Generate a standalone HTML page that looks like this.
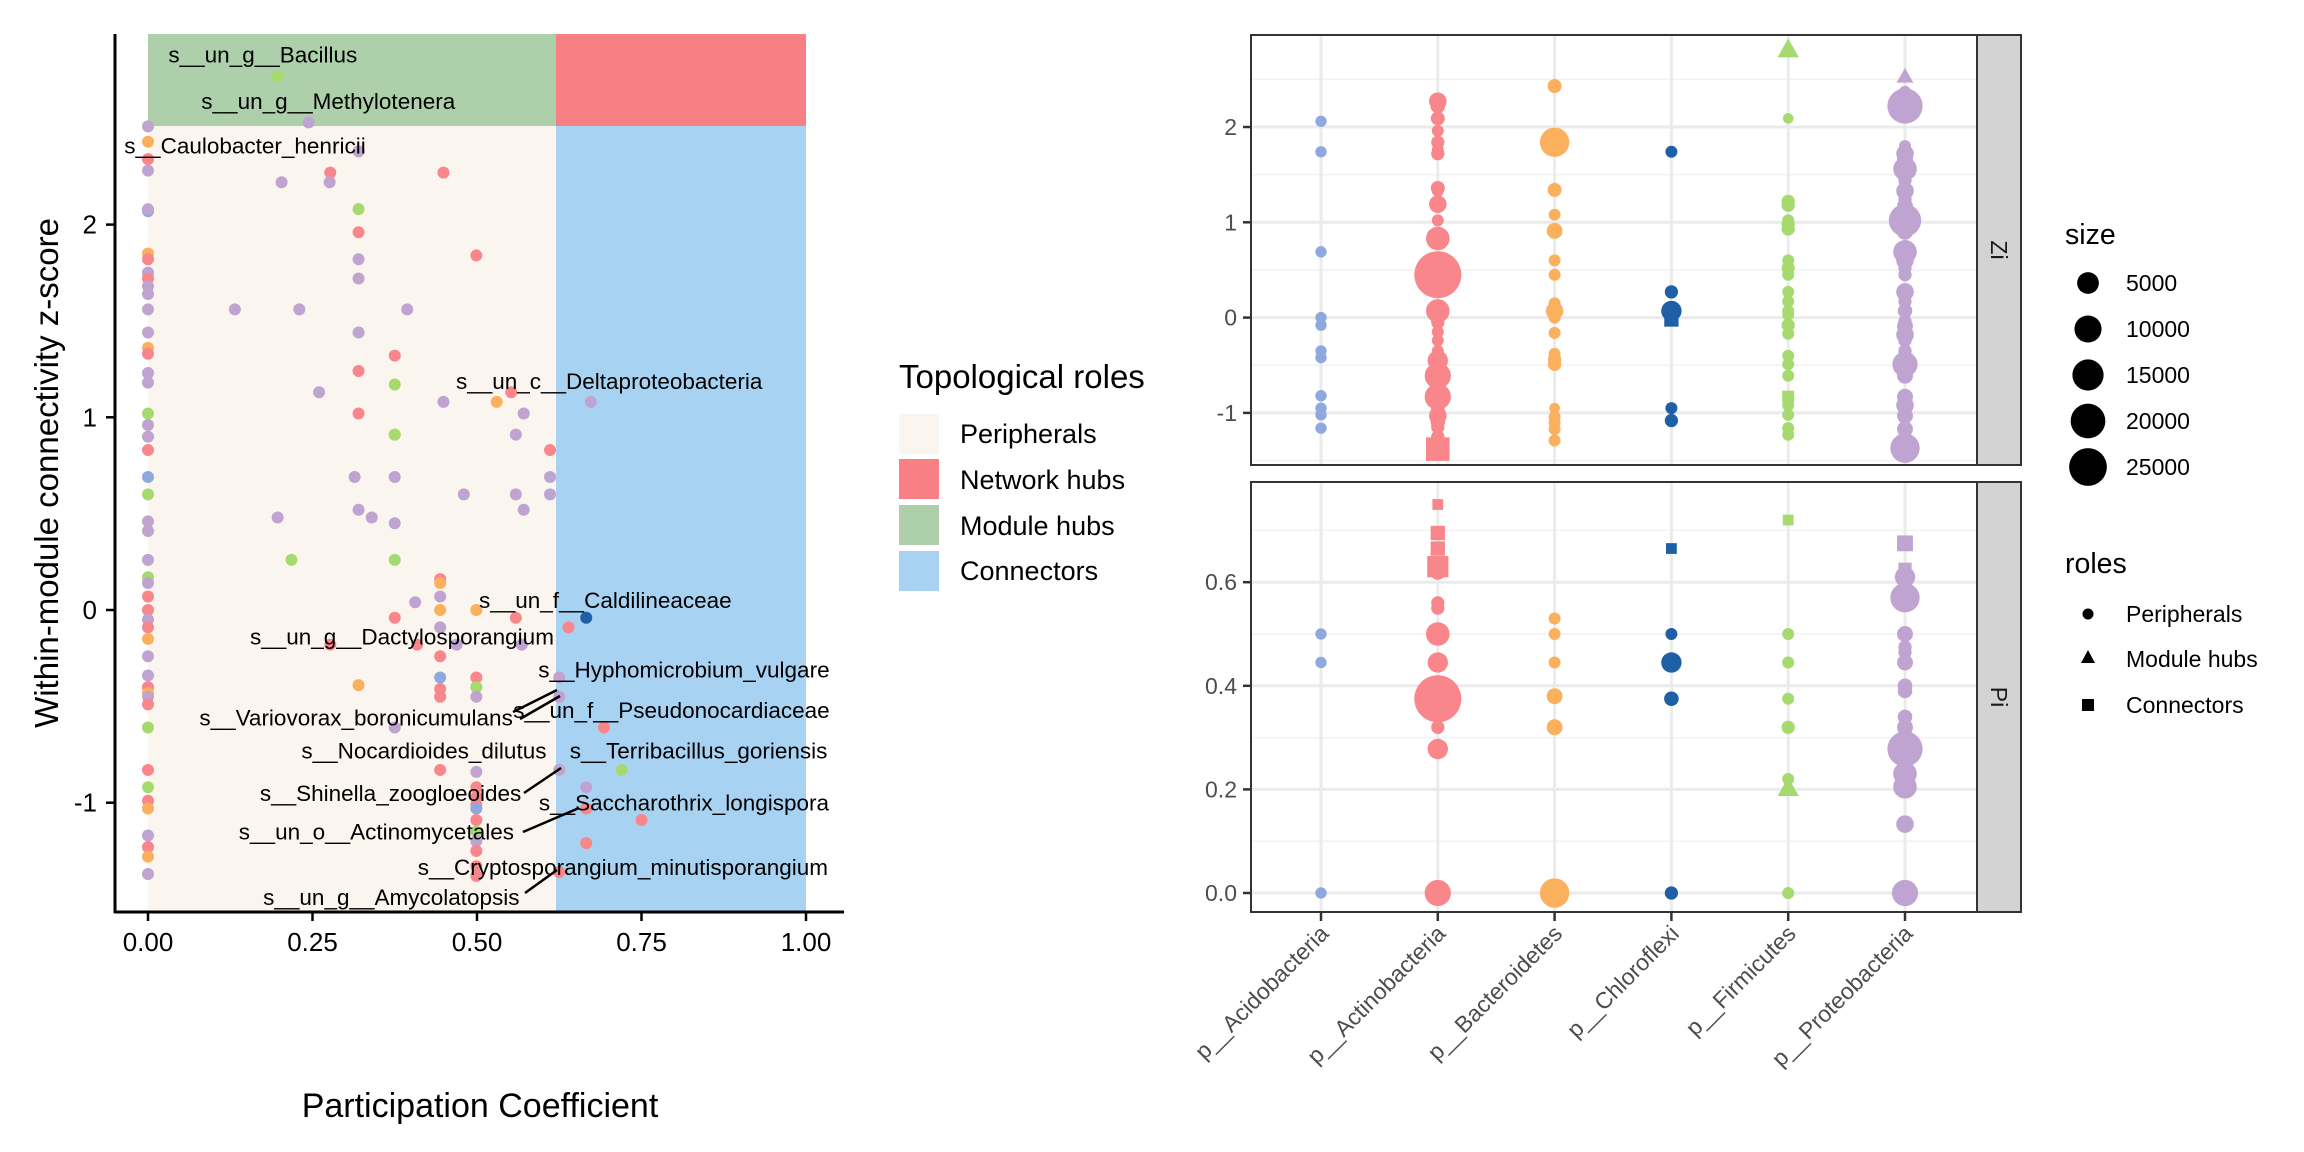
<!DOCTYPE html>
<html><head><meta charset="utf-8"><style>
html,body{margin:0;padding:0;background:#fff;}
svg{display:block;font-family:"Liberation Sans",Arial,sans-serif;}
</style></head><body>
<svg id="chart" width="2304" height="1152" viewBox="0 0 2304 1152" xmlns="http://www.w3.org/2000/svg">
<g id="left">
  <rect x="148" y="34" width="408" height="92" fill="#ADD0AB"/>
  <rect x="556" y="34" width="250" height="92" fill="#F87F83"/>
  <rect x="148" y="126" width="408" height="786" fill="#FBF5EF"/>
  <rect x="556" y="126" width="250" height="786" fill="#A8D2F2"/>
  <g id="lpts"></g>
  <g id="lann" font-size="22.5" fill="#000"></g>
  <line x1="115" y1="34" x2="115" y2="913" stroke="#000" stroke-width="3"/>
  <line x1="114" y1="912" x2="844" y2="912" stroke="#000" stroke-width="3"/>
  <g id="lax"></g>
  <text x="480" y="1117" font-size="34" text-anchor="middle" fill="#000">Participation Coefficient</text>
  <text transform="translate(58,473) rotate(-90)" font-size="33" text-anchor="middle" fill="#000">Within-module connectivity z-score</text>
</g>
<g id="legend1">
  <text x="899" y="388" font-size="33" fill="#000">Topological roles</text>
  <rect x="899" y="414" width="40" height="40" fill="#FBF5EF"/>
  <rect x="899" y="459" width="40" height="40" fill="#F87F83"/>
  <rect x="899" y="505" width="40" height="40" fill="#ADD0AB"/>
  <rect x="899" y="551" width="40" height="40" fill="#A8D2F2"/>
  <g font-size="27" fill="#000">
  <text x="960" y="443">Peripherals</text>
  <text x="960" y="489">Network hubs</text>
  <text x="960" y="535">Module hubs</text>
  <text x="960" y="580">Connectors</text>
  </g>
</g>
<g id="right"></g>
<g id="legend2">
  <text x="2065" y="244" font-size="28.5" fill="#000">size</text>
  <g id="sizeleg"></g>
  <text x="2065" y="573" font-size="28.5" fill="#000">roles</text>
  <circle cx="2088" cy="614" r="5.5" fill="#000"/>
  <polygon points="2088,650 2095,663 2081,663" fill="#000"/>
  <rect x="2082" y="699" width="12" height="12" fill="#000"/>
  <g font-size="23" fill="#000">
  <text x="2126" y="622">Peripherals</text>
  <text x="2126" y="667">Module hubs</text>
  <text x="2126" y="713">Connectors</text>
  </g>
</g>
</svg>
<script>
const NS="http://www.w3.org/2000/svg";
// ---------- data ----------
const phylumNames=["p__Acidobacteria","p__Actinobacteria","p__Bacteroidetes","p__Chloroflexi","p__Firmicutes","p__Proteobacteria"];
const phylumColors=["#8FA9DE","#F8868A","#FBB05E","#1F5FA6","#A6DA6E","#BFA3D0"];
const leftXTicks=[0,0.25,0.5,0.75,1];
const leftXTickLabels=["0.00","0.25","0.50","0.75","1.00"];
const leftYTicks=[-1,0,1,2];
// left panel: participation coefficient, z-score, phylum index
const lpPc=[0,0,0,0,0,0,0,0,0,0,0,0,0,0,0,0,0,0,0,0,0,0,0,0,0,0,0,0,0,0,0,0,0,0,0,0,0,0,0,0,0,0,0,0,0,0,0,0,0,0,
0.197,0.244,0.32,0.203,0.277,0.276,0.449,0.32,0.32,0.499,0.32,0.32,0.132,0.23,0.394,0.32,0.375,0.32,0.375,0.26,0.552,0.53,0.449,0.673,0.32,0.571,0.375,0.375,0.559,0.611,0.314,0.375,0.611,0.48,0.559,0.611,0.32,0.571,0.34,0.197,0.375,0.218,0.375,0.444,0.444,0.444,0.406,0.444,0.499,0.375,0.559,0.666,0.639,0.444,0.277,0.409,0.469,0.568,0.444,0.32,0.444,0.499,0.499,0.444,0.444,0.499,0.625,0.625,0.693,0.375,0.444,0.499,0.625,0.72,0.666,0.499,0.499,0.499,0.499,0.666,0.75,0.499,0.499,0.499,0.666,0.499,0.499,0.499,0.625];
const lpZ=[2.51,2.43,2.34,2.28,2.07,2.08,1.85,1.82,1.75,1.75,1.72,1.68,1.64,1.56,1.44,1.36,1.33,1.23,1.18,1.02,0.96,0.90,0.83,0.69,0.60,0.46,0.41,0.26,0.17,0.14,0.07,0.00,-0.05,-0.09,-0.15,-0.24,-0.34,-0.40,-0.43,-0.45,-0.49,-0.61,-0.83,-0.92,-0.99,-1.03,-1.17,-1.23,-1.28,-1.37,
2.77,2.53,2.38,2.22,2.27,2.22,2.27,2.08,1.96,1.84,1.82,1.72,1.56,1.56,1.56,1.44,1.32,1.24,1.17,1.13,1.13,1.08,1.08,1.08,1.02,1.02,0.91,0.91,0.91,0.83,0.69,0.69,0.69,0.60,0.60,0.60,0.52,0.52,0.48,0.48,0.45,0.26,0.26,0.16,0.14,0.07,0.04,0.0,0.0,-0.04,-0.04,-0.04,-0.09,-0.09,-0.18,-0.18,-0.18,-0.18,-0.24,-0.39,-0.35,-0.35,-0.40,-0.41,-0.45,-0.45,-0.35,-0.45,-0.61,-0.61,-0.83,-0.84,-0.83,-0.83,-0.92,-0.92,-0.97,-1.01,-1.03,-1.03,-1.09,-1.09,-1.15,-1.20,-1.21,-1.25,-1.33,-1.38,-1.36];
const lpPhy=[5,2,1,5,0,5,2,1,0,5,1,5,5,5,5,2,1,5,5,4,5,5,1,0,4,5,5,5,4,5,1,1,5,1,2,5,5,1,2,5,1,4,1,4,1,2,5,1,2,5,
4,5,5,5,1,5,1,4,1,1,5,5,5,5,5,5,1,1,4,5,1,2,5,5,1,5,2,4,5,1,5,5,5,5,5,5,5,5,5,5,5,4,4,1,2,5,5,2,2,1,1,3,1,5,1,1,5,5,1,2,0,1,4,1,1,5,5,5,1,5,1,5,5,4,5,1,1,1,0,1,1,1,4,5,1,1,1,1,1];
const speciesLabels=["s__un_g__Bacillus","s__un_g__Methylotenera","s__Caulobacter_henricii","s__un_c__Deltaproteobacteria","s__un_f__Caldilineaceae","s__un_g__Dactylosporangium","s__Hyphomicrobium_vulgare","s__Variovorax_boronicumulans","s__un_f__Pseudonocardiaceae","s__Nocardioides_dilutus","s__Terribacillus_goriensis","s__Shinella_zoogloeoides","s__Saccharothrix_longispora","s__un_o__Actinomycetales","s__Cryptosporangium_minutisporangium","s__un_g__Amycolatopsis"];
// label anchor positions (pc, z) of text start/baseline
const labelPc=[0.031,0.081,-0.036,0.468,0.503,0.155,0.593,0.078,0.555,0.233,0.641,0.17,0.594,0.138,0.41,0.175];
const labelZ=[2.84,2.60,2.37,1.147,0.01,-0.18,-0.35,-0.60,-0.56,-0.77,-0.77,-0.99,-1.04,-1.19,-1.375,-1.53];

// right panel data: category index, value, size, shape
const ziCat=[0,0,0,0,0,0,0,0,0,0,0, 1,1,1,1,1,1,1,1,1,1,1,1,1,1,1,1,1,1,1,1,1,1,1,1,1,1,1,1,1, 2,2,2,2,2,2,2,2,2,2,2,2,2,2,2,2,2,2,2,2, 3,3,3,3,3,3,3, 4,4,4,4,4,4,4,4,4,4,4,4,4,4,4,4,4,4,4,4,4,4,4,4, 5,5,5,5,5,5,5,5,5,5,5,5,5,5,5,5,5,5,5,5,5,5,5,5,5,5,5,5,5,5,5,5,5,5,5];
const ziVal=[2.06,1.74,0.69,0,-0.08,-0.35,-0.42,-0.82,-0.95,-1.02,-1.16,
2.27,2.22,2.09,1.96,1.84,1.76,1.72,1.36,1.33,1.19,1.02,0.83,0.45,0.07,0.03,-0.05,-0.15,-0.24,-0.35,-0.45,-0.61,-0.83,-0.92,-0.99,-1.03,-1.09,-1.15,-1.25,-1.38,
2.43,1.84,1.34,1.08,0.91,0.60,0.45,0.15,0.10,0.07,0.0,-0.16,-0.38,-0.44,-0.49,-0.95,-1.04,-1.10,-1.17,-1.29,
1.74,0.27,0.07,0.03,-0.02,-0.95,-1.08,
2.8,2.09,1.22,1.18,1.02,0.98,0.93,0.60,0.52,0.45,0.27,0.17,0.07,0.03,-0.08,-0.17,-0.40,-0.49,-0.61,-0.83,-0.92,-1.02,-1.16,-1.23,
2.52,2.37,2.22,1.80,1.72,1.67,1.56,1.44,1.33,1.24,1.17,1.02,0.96,0.90,0.69,0.60,0.52,0.45,0.27,0.17,0.07,-0.04,-0.09,-0.18,-0.24,-0.35,-0.45,-0.49,-0.61,-0.83,-0.92,-1.03,-1.17,-1.25,-1.37];
const ziSize=[200,200,200,200,200,200,200,200,200,200,200,
2300,1000,800,300,600,300,600,800,300,2300,300,6500,43500,6500,2300,600,300,300,300,4000,9000,9000,1000,1000,2300,1000,600,600,9000,
800,12600,800,300,1500,300,300,300,600,2300,300,300,300,600,600,100,300,300,300,300,
300,600,4000,1500,1500,300,600,
4000,100,600,600,300,600,600,300,600,300,300,300,300,300,600,300,300,300,300,600,300,300,300,300,
1500,300,20800,300,2300,1500,6500,600,2300,600,1500,16600,4000,1500,6500,2300,600,600,2300,600,1000,600,1500,2300,600,600,2300,8000,1500,1500,2300,1500,1500,600,12600];
const ziShape=["c","c","c","c","c","c","c","c","c","c","c",
"c","c","c","c","c","c","c","c","c","c","c","c","c","c","c","c","c","c","c","c","c","c","c","c","c","c","c","c","s",
"c","c","c","c","c","c","c","c","c","c","c","c","c","c","c","c","c","c","c","c",
"c","c","c","c","s","c","c",
"t","c","c","c","c","c","c","c","c","c","c","c","c","c","c","c","c","c","c","s","c","c","c","c",
"t","c","c","c","c","c","c","c","c","c","c","c","c","c","c","c","c","c","c","c","c","c","c","c","c","c","c","c","c","c","c","c","c","c","c"];
const piCat=[0,0,0, 1,1,1,1,1,1,1,1,1,1,1,1,1,1, 2,2,2,2,2,2, 3,3,3,3,3, 4,4,4,4,4,4,4,4, 5,5,5,5,5,5,5,5,5,5,5,5,5,5,5,5,5,5,5];
const piVal=[0.5,0.445,0,
0.75,0.695,0.665,0.63,0.62,0.56,0.55,0.5,0.445,0.405,0.375,0.32,0.278,0,
0.53,0.5,0.445,0.38,0.32,0,
0.665,0.5,0.445,0.375,0,
0.72,0.5,0.445,0.375,0.32,0.22,0.2,0,
0.675,0.625,0.61,0.57,0.5,0.475,0.465,0.445,0.4,0.39,0.34,0.32,0.3,0.278,0.25,0.23,0.205,0.133,0];
const piSize=[200,200,200,
300,1500,1500,6500,1500,600,600,6500,4000,1000,43500,600,4000,9000,
300,300,300,1500,1500,12600,
300,300,4000,1000,600,
300,300,300,300,600,300,4000,300,
2300,1000,4000,12600,1500,600,600,1500,1000,1000,1000,1500,2300,20800,1500,6500,6500,2300,9000];
const piShape=["c","c","c",
"s","s","s","s","c","c","c","c","c","c","c","c","c","c",
"c","c","c","c","c","c",
"s","c","c","c","c",
"s","c","c","c","c","c","t","c",
"s","s","c","c","c","c","c","c","c","c","c","c","c","c","c","c","c","c","c"];
const ziTicks=[-1,0,1,2];
const ziMinor=[-1.5,-0.5,0.5,1.5,2.5];
const piTicks=[0,0.2,0.4,0.6];
const piTickLabels=["0.0","0.2","0.4","0.6"];
const piMinor=[0.1,0.3,0.5,0.7];
const sizeLegendVals=[5000,10000,15000,20000,25000];

// ---------- scales ----------
const lx=v=>148+v*658;
const ly=v=>610-v*192.7;
const cx=i=>1321+i*116.8;
const zy=v=>317.6-v*95.3;
const py=v=>893-v*518;
const rs=s=>4.4+0.0916*Math.sqrt(s);

function mk(tag,attrs,parent){const e=document.createElementNS(NS,tag);for(const k in attrs)e.setAttribute(k,attrs[k]);parent.appendChild(e);return e;}

// ---------- left panel ----------
const lpts=document.getElementById('lpts');
for(let i=0;i<lpPc.length;i++){
  const c=mk('circle',{cx:lx(lpPc[i]),cy:ly(lpZ[i]),r:6,fill:phylumColors[lpPhy[i]]},lpts);
  
  
}
const lann=document.getElementById('lann');
for(let i=0;i<speciesLabels.length;i++){
  const t=mk('text',{x:lx(labelPc[i]),y:ly(labelZ[i])},lann);
  t.textContent=speciesLabels[i];
  
  
}
const leaders=[[520,719,560,696],[524,793,561,768],[523,832,579,808],[525,893,557,870],[513,712,557,690]];
for(const l of leaders){
  const e=mk('line',{x1:l[0],y1:l[1],x2:l[2],y2:l[3],stroke:'#000','stroke-width':2.5},lann);
  
  
}
const lax=document.getElementById('lax');
leftXTicks.forEach((v,i)=>{
  const tk=mk('line',{x1:lx(v),y1:912,x2:lx(v),y2:921,stroke:'#000','stroke-width':2.5},lax);
  
  
  const t=mk('text',{x:lx(v),y:951,'font-size':26,'text-anchor':'middle',fill:'#000'},lax);
  t.textContent=leftXTickLabels[i];
  
  
});
leftYTicks.forEach(v=>{
  const tk=mk('line',{x1:106,y1:ly(v),x2:115,y2:ly(v),stroke:'#000','stroke-width':2.5},lax);
  
  
  const t=mk('text',{x:97,y:ly(v)+9,'font-size':26,'text-anchor':'end',fill:'#000'},lax);
  t.textContent=String(v);
  
  
});

// ---------- right panel ----------
const R=document.getElementById('right');
const L=1251,RR=1977;
function panel(top,bot,major,minor,sc,labels,name){
  const g=mk('g',{},R);
  
  
  mk('rect',{x:L,y:top,width:RR-L,height:bot-top,fill:'#fff'},g);
  minor.forEach(v=>{const y=sc(v);if(y>top&&y<bot){const e=mk('line',{x1:L,y1:y,x2:RR,y2:y,stroke:'#F2F2F2','stroke-width':1.5},g);
    }});
  major.forEach(v=>{const e=mk('line',{x1:L,y1:sc(v),x2:RR,y2:sc(v),stroke:'#EBEBEB','stroke-width':3},g);
    });
  phylumNames.forEach((n,i)=>{const e=mk('line',{x1:cx(i),y1:top,x2:cx(i),y2:bot,stroke:'#EBEBEB','stroke-width':3},g);
    });
  major.forEach((v,i)=>{
    const tk=mk('line',{x1:1243,y1:sc(v),x2:L,y2:sc(v),stroke:'#333','stroke-width':2.5},g);
    
    const t=mk('text',{x:1237,y:sc(v)+8,'font-size':23,'text-anchor':'end',fill:'#4D4D4D'},g);
    t.textContent=labels[i];
    
  });
  return g;
}
function drawPts(g,cats,vals,sizes,shapes,sc){
  for(let i=0;i<vals.length;i++){
    const x=cx(cats[i]),y=sc(vals[i]),r=rs(sizes[i]),col=phylumColors[cats[i]];
    let e;
    if(shapes[i]==='s'){e=mk('rect',{x:x-r*0.9,y:y-r*0.9,width:r*1.8,height:r*1.8,fill:col},g);}
    else if(shapes[i]==='t'){e=mk('polygon',{points:`${x},${y-r*1.2} ${x+r*1.05},${y+r*0.65} ${x-r*1.05},${y+r*0.65}`,fill:col},g);}
    else{e=mk('circle',{cx:x,cy:y,r:r,fill:col},g);}
    
    
  }
}
const gz=panel(35,465,ziTicks,ziMinor,zy,ziTicks.map(String),'zi-panel');
drawPts(gz,ziCat,ziVal,ziSize,ziShape,zy);
const gp=panel(482,912,piTicks,piMinor,py,piTickLabels,'pi-panel');
drawPts(gp,piCat,piVal,piSize,piShape,py);
[[35,465,'Zi'],[482,912,'Pi']].forEach(p=>{
  const b=mk('rect',{x:L,y:p[0],width:RR-L,height:p[1]-p[0],fill:'none',stroke:'#333','stroke-width':2},R);
  
  const s=mk('rect',{x:1977,y:p[0],width:44,height:p[1]-p[0],fill:'#D3D3D3',stroke:'#333','stroke-width':2},R);
  
  const t=mk('text',{transform:`translate(1991,${(p[0]+p[1])/2}) rotate(90)`,'font-size':23,'text-anchor':'middle',fill:'#1A1A1A'},R);
  t.textContent=p[2];
  
});
phylumNames.forEach((n,i)=>{
  const tk=mk('line',{x1:cx(i),y1:912,x2:cx(i),y2:921,stroke:'#333','stroke-width':2.5},R);
  
  const t=mk('text',{transform:`translate(${cx(i)+9},${935}) rotate(-45)`,'font-size':23,'text-anchor':'end',fill:'#4D4D4D'},R);
  t.textContent=n;
  
});
// size legend
const sl=document.getElementById('sizeleg');
sizeLegendVals.forEach((v,i)=>{
  const y=283+i*46;
  const c=mk('circle',{cx:2088,cy:y,r:rs(v),fill:'#000'},sl);
  
  const t=mk('text',{x:2126,y:y+8,'font-size':23,fill:'#000'},sl);
  t.textContent=String(v);
  
});
</script>
</body></html>
